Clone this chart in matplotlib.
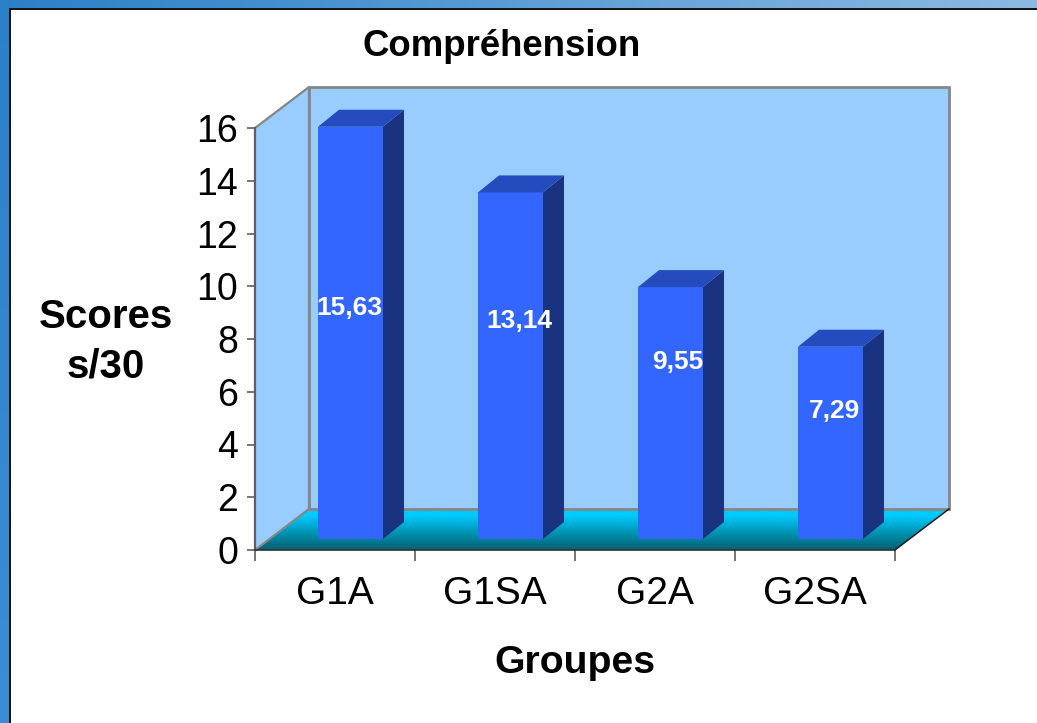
import numpy as np
import matplotlib
matplotlib.use("Agg")
import matplotlib.pyplot as plt
from matplotlib.patches import Polygon
from matplotlib.colors import LinearSegmentedColormap

plt.rcParams['font.family'] = ['Liberation Sans', 'DejaVu Sans']

categories = ["G1A", "G1SA", "G2A", "G2SA"]
scores = [15.63, 13.14, 9.55, 7.29]
score_labels = ["15,63", "13,14", "9,55", "7,29"]
y_ticks = [0, 2, 4, 6, 8, 10, 12, 14, 16]
title = "Compréhension"
x_title = "Groupes"
y_title = "Scores\ns/30"

# Label placement relative to each bar's middle, in pixels
label_dx = [-1.5, 9, 7, 4]
label_dy = [25, 45, 51, 32]

W, H = 1037, 723
fig = plt.figure(figsize=(W / 100, H / 100), dpi=100, facecolor='white')

def fx(px):
    return px / W

def fy(py):
    return 1 - py / H

# Slide background
bg = fig.add_axes([0, 0, 1, 1], zorder=0)
bg.set_xlim(0, W)
bg.set_ylim(H, 0)
bg.axis('off')
top_cmap = LinearSegmentedColormap.from_list('top', ['#2a80c8', '#8cbae2'])
bg.imshow(np.linspace(0, 1, 256)[None, :], extent=(0, W, 8, 0), cmap=top_cmap, aspect='auto')
left_cmap = LinearSegmentedColormap.from_list('left', ['#2a80c8', '#3c8ed2'])
bg.imshow(np.linspace(0, 1, 256)[:, None], extent=(0, 9, H, 0), cmap=left_cmap, aspect='auto')
bg.set_xlim(0, W)
bg.set_ylim(H, 0)
bg.plot([9.5, 9.5, W], [H, 8.5, 8.5], color='#101010', lw=1.4, solid_joinstyle='miter')

# Chart axes: the front plane of the 3-D box
x0, x1, y0, y1 = 255, 895, 550, 128
ax = fig.add_axes([fx(x0), fy(y0), fx(x1 - x0), (y0 - y1) / H], zorder=1, facecolor='none')
ax.set_xlim(0, len(categories))
ax.set_ylim(0, y_ticks[-1])
sx = len(categories) / (x1 - x0)   # data units per pixel
sy = y_ticks[-1] / (y0 - y1)

dep_x, dep_y = 54 * sx, 41 * sy      # box depth
xmax, ymax = len(categories), y_ticks[-1]

# Side wall, back wall
ax.add_patch(Polygon([(0, 0), (dep_x, dep_y), (dep_x, ymax + dep_y), (0, ymax)],
                     fc='#99ccff', ec='#868686', lw=1.6, clip_on=False, zorder=3))
ax.add_patch(Polygon([(dep_x, dep_y), (xmax + dep_x, dep_y), (xmax + dep_x, ymax + dep_y), (dep_x, ymax + dep_y)],
                     fc='#99ccff', ec='#868686', lw=2.0, clip_on=False, zorder=3, joinstyle='miter'))

# Floor with gradient
floor_cmap = LinearSegmentedColormap.from_list(
    'floor', [(0, '#00ccff'), (0.15, '#00ccff'), (0.6, '#0090b0'), (1, '#00606f')])
floor = Polygon([(0, 0), (xmax, 0), (xmax + dep_x, dep_y), (dep_x, dep_y)],
                fc='none', ec='none', clip_on=False, transform=ax.transData)
ax.add_patch(floor)
im = ax.imshow(np.linspace(0, 1, 256)[:, None], extent=(0, xmax + dep_x, 0, dep_y), origin='upper',
               cmap=floor_cmap, aspect='auto', zorder=2)
im.set_clip_box(fig.bbox)
im.set_clip_path(floor)
ax.set_xlim(0, xmax)
ax.set_ylim(0, ymax)
ax.plot([xmax, xmax + dep_x], [0, dep_y], color='#101010', lw=1, clip_on=False, zorder=3)

# Bars
bar_w = 65 * sx
shift_x, shift_y = 15.5 * sx, 11 * sy
side_x, side_y = 21 * sx, 17 * sy
for i, v in enumerate(scores):
    l = i + 0.5 + shift_x - bar_w / 2
    r = l + bar_w
    b = shift_y
    t = v + shift_y
    ax.add_patch(Polygon([(l, b), (r, b), (r, t), (l, t)], fc='#3366ff', ec='none', zorder=5, clip_on=False))
    ax.add_patch(Polygon([(r, b), (r + side_x, b + side_y), (r + side_x, t + side_y), (r, t)],
                         fc='#1a3380', ec='none', zorder=5, clip_on=False))
    ax.add_patch(Polygon([(l, t), (r, t), (r + side_x, t + side_y), (l + side_x, t + side_y)],
                         fc='#244cbf', ec='none', zorder=5, clip_on=False))
    ax.text(i + 0.5 + shift_x + label_dx[i] * sx, b + v / 2 + label_dy[i] * sy, score_labels[i],
            color='white', fontweight='bold', fontsize=19, ha='center', va='center', zorder=6)

# Axes, ticks
for s in ('top', 'right'):
    ax.spines[s].set_visible(False)
ax.spines['left'].set_color('#606060')
ax.spines['left'].set_linewidth(1.5)
ax.spines['left'].set_zorder(4)
ax.spines['bottom'].set_color('#303030')
ax.spines['bottom'].set_linewidth(1.2)
ax.spines['bottom'].set_zorder(4)
ax.set_yticks(y_ticks)
ax.tick_params(axis='y', labelsize=27, length=6, width=1.2, color='#606060', pad=6, labelcolor='black')
ax.set_xticks(range(len(categories) + 1))
ax.set_xticklabels([])
ax.tick_params(axis='x', which='major', length=8, width=1.2, color='#606060')
ax.set_xticks([i + 0.5 for i in range(len(categories))], minor=True)
ax.set_xticklabels(categories, minor=True)
ax.tick_params(axis='x', which='minor', length=0, labelsize=28, pad=19, labelcolor='black')

# Titles
fig.text(fx(502), fy(47), title, fontsize=26.4, fontweight='bold', ha='center', va='center', color='black', zorder=3)
fig.text(fx(575), fy(663), x_title, fontsize=28.3, fontweight='bold', ha='center', va='center', color='black', zorder=3)
fig.text(fx(106), fy(342), y_title, fontsize=29, fontweight='bold', ha='center', va='center',
         color='black', linespacing=1.38, zorder=3)

fig.savefig("out.png", dpi=100, facecolor=fig.get_facecolor())
